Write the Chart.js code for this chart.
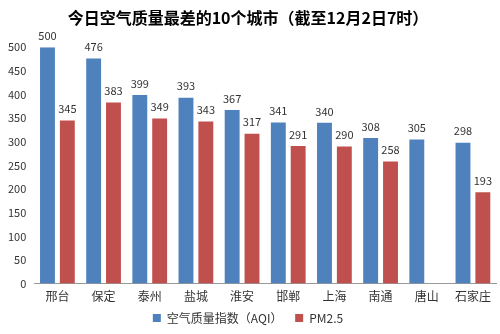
<!DOCTYPE html>
<html>
<head>
<meta charset="utf-8">
<script src="https://cdn.jsdelivr.net/npm/chart.js@4"></script>
<style>
  html, body { margin: 0; padding: 0; background: #fff; }
  #wrap { width: 500px; height: 334px; }
</style>
</head>
<body>
<div id="wrap"><canvas id="c"></canvas></div>
<script>
// 城市与数值
const cities = ['邢台', '保定', '泰州', '盐城', '淮安', '邯郸', '上海', '南通', '唐山', '石家庄']
const aqiValues = [500, 476, 399, 393, 367, 341, 340, 308, 305, 298]
const pm25Values = [345, 383, 349, 343, 317, 291, 290, 258, null, 193]
const yTicks = [0, 50, 100, 150, 200, 250, 300, 350, 400, 450, 500]

const FONT = '"Noto Sans CJK SC", "Noto Sans", sans-serif'

// 柱顶数值标签
const valueLabels = {
  id: 'valueLabels',
  afterDatasetsDraw(chart) {
    const ctx = chart.ctx
    ctx.save()
    ctx.font = '11px ' + FONT
    ctx.fillStyle = '#333'
    ctx.textAlign = 'center'
    ctx.textBaseline = 'bottom'
    chart.data.datasets.forEach((ds, i) => {
      chart.getDatasetMeta(i).data.forEach((bar, j) => {
        const v = ds.data[j]
        if (v == null) return
        ctx.fillText(String(v), bar.x, bar.y - 6)
      })
    })
    ctx.restore()
  }
}

new Chart(document.getElementById('c'), {
  type: 'bar',
  data: {
    labels: cities,
    datasets: [
      {
        label: '空气质量指数（AQI）',
        data: aqiValues,
        backgroundColor: '#4F81BD',
        barPercentage: 0.75,
        categoryPercentage: 0.86
      },
      {
        label: 'PM2.5',
        data: pm25Values,
        backgroundColor: '#C0504D',
        barPercentage: 0.75,
        categoryPercentage: 0.86
      }
    ]
  },
  options: {
    responsive: true,
    maintainAspectRatio: false,
    animation: false,
    layout: { padding: { left: 0, right: 4, top: 0, bottom: 0 } },
    plugins: {
      title: {
        display: true,
        text: '今日空气质量最差的10个城市（截至12月2日7时）',
        color: '#000',
        font: { family: FONT, size: 16, weight: 'bold' },
        padding: { top: 8, bottom: 20 }
      },
      legend: {
        position: 'bottom',
        labels: {
          color: '#333',
          font: { family: FONT, size: 12 },
          usePointStyle: true,
          pointStyle: 'rect',
          boxWidth: 8,
          boxHeight: 8,
          padding: 2,
          // 图例项之间留宽一点
          generateLabels: chart => Chart.defaults.plugins.legend.labels.generateLabels(chart)
            .map((l, i) => i === 0 ? { ...l, text: l.text + '    ' } : l)
        }
      },
      tooltip: { enabled: false }
    },
    scales: {
      x: {
        grid: { display: false, drawTicks: false },
        border: { color: '#999' },
        ticks: {
          color: '#333',
          font: { family: FONT, size: 12 },
          padding: 6
        }
      },
      y: {
        min: 0,
        max: 500,
        afterBuildTicks: axis => { axis.ticks = yTicks.map(v => ({ value: v })) },
        grid: { display: false, drawTicks: false },
        border: { display: false },
        ticks: {
          color: '#333',
          font: { family: FONT, size: 11 },
          padding: 8
        }
      }
    }
  },
  plugins: [valueLabels]
})
</script>
</body>
</html>
